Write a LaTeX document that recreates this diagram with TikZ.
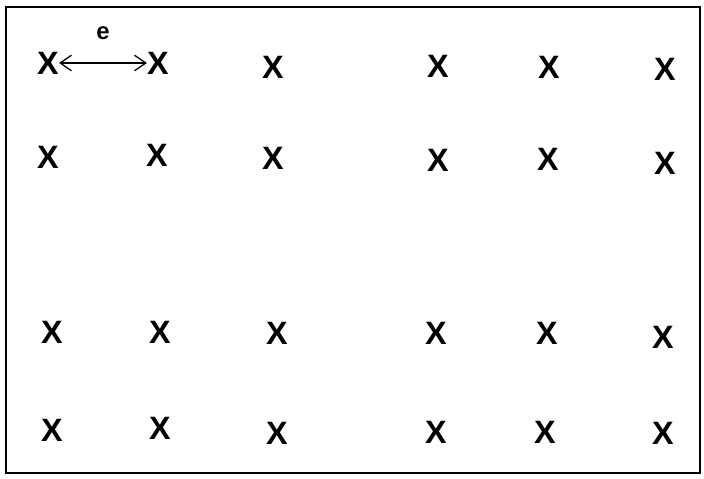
\documentclass[tikz,border=0pt]{standalone}
\usepackage{fontspec}
\setmainfont{Liberation Sans}
\usetikzlibrary{arrows.meta}

\tikzset{gridx/.style={inner sep=0pt,font=\fontsize{23}{23}\selectfont\bfseries}}

\begin{document}
\begin{tikzpicture}[x=0.025cm,y=-0.025cm]
\useasboundingbox (0,0) rectangle (704,479);
\draw[line width=1.5pt] (6,7) rectangle (700,473);
% first row
\node[gridx] (a1) at (48,63) {X};
\node[gridx] (a2) at (158,63) {X};
\node[gridx] (a3) at (273,67) {X};
\node[gridx] (a4) at (438,66) {X};
\node[gridx] (a5) at (549,67) {X};
\node[gridx] (a6) at (665,69) {X};
% second row
\node[gridx] (b1) at (48,157) {X};
\node[gridx] (b2) at (157,155) {X};
\node[gridx] (b3) at (273,158) {X};
\node[gridx] (b4) at (438,160) {X};
\node[gridx] (b5) at (548,159) {X};
\node[gridx] (b6) at (665,163) {X};
% third row
\node[gridx] (c1) at (52,332) {X};
\node[gridx] (c2) at (160,332) {X};
\node[gridx] (c3) at (277,333) {X};
\node[gridx] (c4) at (436,333) {X};
\node[gridx] (c5) at (547,333) {X};
\node[gridx] (c6) at (663,337) {X};
% fourth row
\node[gridx] (d1) at (52,430) {X};
\node[gridx] (d2) at (160,428) {X};
\node[gridx] (d3) at (277,433) {X};
\node[gridx] (d4) at (436,432) {X};
\node[gridx] (d5) at (545,432) {X};
\node[gridx] (d6) at (663,433) {X};
% spacing
\draw[line width=0.9pt,{Straight Barb[length=8pt,width=11pt]}-{Straight Barb[length=8pt,width=11pt]}] (a1) -- (a2) node [midway,above=13pt,font=\fontsize{17}{17}\selectfont\bfseries] (e) {e};
\end{tikzpicture}
\end{document}
